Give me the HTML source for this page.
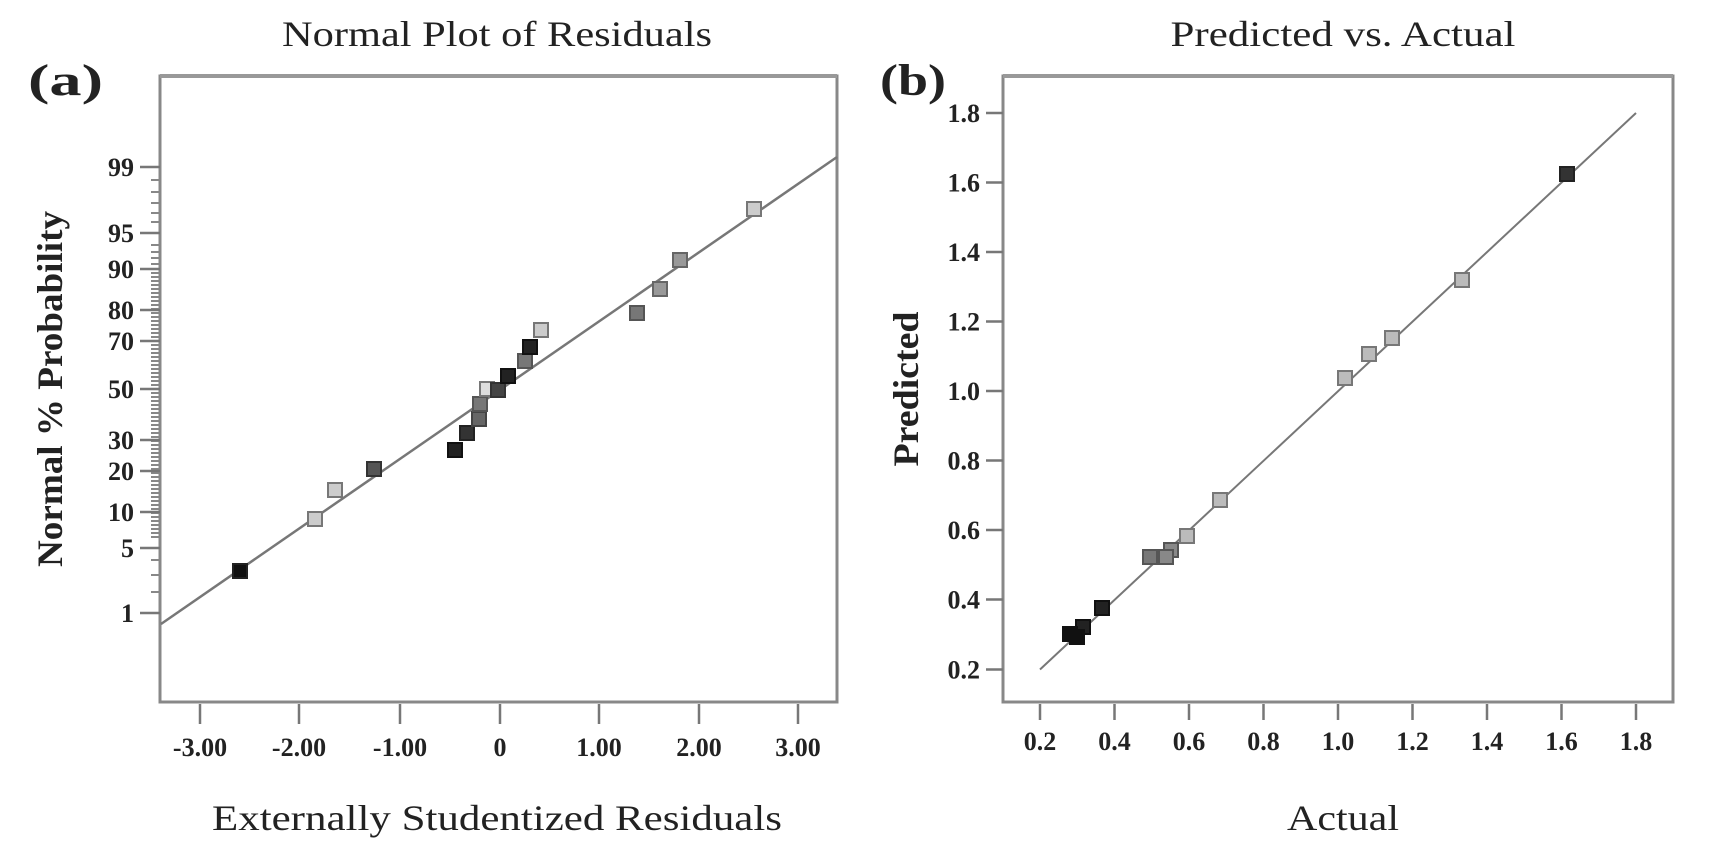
<!DOCTYPE html>
<html><head><meta charset="utf-8"><style>
html,body{margin:0;padding:0;background:#fff;}
svg{display:block;}
text{font-family:"Liberation Serif",serif;fill:#222;}
</style></head><body>
<svg width="1714" height="841" viewBox="0 0 1714 841" xmlns="http://www.w3.org/2000/svg">
<defs>
<pattern id="mt" x="0" y="0" width="10" height="4" patternUnits="userSpaceOnUse">
<rect x="0" y="0" width="10" height="2" fill="#888"/>
</pattern>
</defs>
<!-- Titles -->
<text x="497" y="46" font-size="36" text-anchor="middle" textLength="430" lengthAdjust="spacingAndGlyphs">Normal Plot of Residuals</text>
<text x="1343" y="46" font-size="36" text-anchor="middle" textLength="345" lengthAdjust="spacingAndGlyphs">Predicted vs. Actual</text>
<text x="28" y="95" font-size="44" font-weight="bold" textLength="75" lengthAdjust="spacingAndGlyphs">(a)</text>
<text x="880" y="95" font-size="44" font-weight="bold" textLength="66" lengthAdjust="spacingAndGlyphs">(b)</text>

<!-- Left plot box -->
<rect x="160" y="76" width="677" height="626" fill="none" stroke="#888" stroke-width="3"/>
<line x1="160" y1="76" x2="837" y2="76" stroke="#999" stroke-width="4"/>
<!-- left y minor ticks -->
<g stroke="#888" stroke-width="2">
<line x1="151" y1="180" x2="160" y2="180"/><line x1="151" y1="192" x2="160" y2="192"/><line x1="151" y1="203" x2="160" y2="203"/><line x1="151" y1="213" x2="160" y2="213"/><line x1="151" y1="222" x2="160" y2="222"/>
<line x1="151" y1="245" x2="160" y2="245"/><line x1="151" y1="252" x2="160" y2="252"/><line x1="151" y1="258" x2="160" y2="258"/><line x1="151" y1="264" x2="160" y2="264"/>
</g>
<rect x="151" y="270" width="9" height="268" fill="url(#mt)"/>
<g stroke="#888" stroke-width="2">
<line x1="151" y1="560" x2="160" y2="560"/><line x1="151" y1="575" x2="160" y2="575"/><line x1="151" y1="592" x2="160" y2="592"/>
</g>
<!-- left y major ticks -->
<g stroke="#777" stroke-width="2.5">
<line x1="140" y1="167" x2="160" y2="167"/><line x1="140" y1="233" x2="160" y2="233"/><line x1="140" y1="269" x2="160" y2="269"/>
<line x1="140" y1="310" x2="160" y2="310"/><line x1="140" y1="341" x2="160" y2="341"/><line x1="140" y1="389" x2="160" y2="389"/>
<line x1="140" y1="440" x2="160" y2="440"/><line x1="140" y1="471" x2="160" y2="471"/><line x1="140" y1="512" x2="160" y2="512"/>
<line x1="140" y1="548" x2="160" y2="548"/><line x1="140" y1="613" x2="160" y2="613"/>
</g>
<g font-size="26" font-weight="bold" text-anchor="end">
<text x="134" y="176">99</text><text x="134" y="242">95</text><text x="134" y="278">90</text><text x="134" y="319">80</text>
<text x="134" y="350">70</text><text x="134" y="398">50</text><text x="134" y="449">30</text><text x="134" y="480">20</text>
<text x="134" y="521">10</text><text x="134" y="557">5</text><text x="134" y="622">1</text>
</g>
<!-- left x ticks -->
<g stroke="#777" stroke-width="2.5">
<line x1="200" y1="704" x2="200" y2="724"/><line x1="299" y1="704" x2="299" y2="724"/><line x1="400" y1="704" x2="400" y2="724"/>
<line x1="500" y1="704" x2="500" y2="724"/><line x1="599" y1="704" x2="599" y2="724"/><line x1="699" y1="704" x2="699" y2="724"/><line x1="798" y1="704" x2="798" y2="724"/>
</g>
<g font-size="26" font-weight="bold" text-anchor="middle">
<text x="200" y="756">-3.00</text><text x="299" y="756">-2.00</text><text x="400" y="756">-1.00</text><text x="500" y="756">0</text>
<text x="599" y="756">1.00</text><text x="699" y="756">2.00</text><text x="798" y="756">3.00</text>
</g>
<text x="497" y="830" font-size="36" text-anchor="middle" textLength="570" lengthAdjust="spacingAndGlyphs">Externally Studentized Residuals</text>
<text transform="translate(62,389) rotate(-90)" font-size="36" font-weight="bold" text-anchor="middle" textLength="356" lengthAdjust="spacingAndGlyphs">Normal % Probability</text>
<!-- left fit line -->
<line x1="161" y1="624" x2="837" y2="157" stroke="#777" stroke-width="2.5"/>
<!-- left points -->
<g stroke-width="2">
<rect x="233" y="564" width="14" height="14" fill="#111" stroke="#222"/>
<rect x="308" y="512" width="14" height="14" fill="#ccc" stroke="#777"/>
<rect x="328" y="483" width="14" height="14" fill="#ccc" stroke="#777"/>
<rect x="367" y="462" width="14" height="14" fill="#555" stroke="#333"/>
<rect x="448" y="443" width="14" height="14" fill="#222" stroke="#111"/>
<rect x="460" y="426" width="14" height="14" fill="#333" stroke="#222"/>
<rect x="472" y="412" width="14" height="14" fill="#666" stroke="#444"/>
<rect x="473" y="397" width="14" height="14" fill="#777" stroke="#555"/>
<rect x="480" y="382" width="14" height="14" fill="#ddd" stroke="#777"/>
<rect x="491" y="383" width="14" height="14" fill="#444" stroke="#333"/>
<rect x="501" y="369" width="14" height="14" fill="#222" stroke="#111"/>
<rect x="518" y="354" width="14" height="14" fill="#777" stroke="#555"/>
<rect x="523" y="340" width="14" height="14" fill="#222" stroke="#111"/>
<rect x="534" y="323" width="14" height="14" fill="#ccc" stroke="#777"/>
<rect x="630" y="306" width="14" height="14" fill="#777" stroke="#555"/>
<rect x="653" y="282" width="14" height="14" fill="#999" stroke="#666"/>
<rect x="673" y="253" width="14" height="14" fill="#999" stroke="#666"/>
<rect x="747" y="202" width="14" height="14" fill="#ccc" stroke="#777"/>
</g>

<!-- Right plot box -->
<rect x="1003" y="76" width="670" height="626" fill="none" stroke="#888" stroke-width="3"/>
<line x1="1003" y1="76" x2="1673" y2="76" stroke="#999" stroke-width="4"/>
<g stroke="#777" stroke-width="2.5">
<line x1="986" y1="113" x2="1003" y2="113"/><line x1="986" y1="182.5" x2="1003" y2="182.5"/><line x1="986" y1="252" x2="1003" y2="252"/>
<line x1="986" y1="321.5" x2="1003" y2="321.5"/><line x1="986" y1="391" x2="1003" y2="391"/><line x1="986" y1="460.5" x2="1003" y2="460.5"/>
<line x1="986" y1="530" x2="1003" y2="530"/><line x1="986" y1="599.5" x2="1003" y2="599.5"/><line x1="986" y1="669.5" x2="1003" y2="669.5"/>
</g>
<g font-size="26" font-weight="bold" text-anchor="end">
<text x="980" y="122">1.8</text><text x="980" y="191.5">1.6</text><text x="980" y="261">1.4</text><text x="980" y="330.5">1.2</text>
<text x="980" y="400">1.0</text><text x="980" y="469.5">0.8</text><text x="980" y="539">0.6</text><text x="980" y="608.5">0.4</text><text x="980" y="678.5">0.2</text>
</g>
<g stroke="#777" stroke-width="2.5">
<line x1="1040" y1="704" x2="1040" y2="720"/><line x1="1114.5" y1="704" x2="1114.5" y2="720"/><line x1="1189" y1="704" x2="1189" y2="720"/>
<line x1="1263.5" y1="704" x2="1263.5" y2="720"/><line x1="1338" y1="704" x2="1338" y2="720"/><line x1="1412.5" y1="704" x2="1412.5" y2="720"/>
<line x1="1487" y1="704" x2="1487" y2="720"/><line x1="1561.5" y1="704" x2="1561.5" y2="720"/><line x1="1636" y1="704" x2="1636" y2="720"/>
</g>
<g font-size="26" font-weight="bold" text-anchor="middle">
<text x="1040" y="750">0.2</text><text x="1114.5" y="750">0.4</text><text x="1189" y="750">0.6</text><text x="1263.5" y="750">0.8</text>
<text x="1338" y="750">1.0</text><text x="1412.5" y="750">1.2</text><text x="1487" y="750">1.4</text><text x="1561.5" y="750">1.6</text><text x="1636" y="750">1.8</text>
</g>
<text x="1343" y="830" font-size="36" text-anchor="middle" textLength="112" lengthAdjust="spacingAndGlyphs">Actual</text>
<text transform="translate(918,389) rotate(-90)" font-size="36" font-weight="bold" text-anchor="middle" textLength="155" lengthAdjust="spacingAndGlyphs">Predicted</text>
<line x1="1040" y1="669.5" x2="1636" y2="113" stroke="#777" stroke-width="2"/>
<g stroke-width="2">
<rect x="1560" y="167" width="14" height="14" fill="#333" stroke="#222"/>
<rect x="1455" y="273" width="14" height="14" fill="#bbb" stroke="#777"/>
<rect x="1385" y="331" width="14" height="14" fill="#bbb" stroke="#777"/>
<rect x="1362" y="347" width="14" height="14" fill="#bbb" stroke="#777"/>
<rect x="1338" y="371" width="14" height="14" fill="#bbb" stroke="#777"/>
<rect x="1213" y="493" width="14" height="14" fill="#bbb" stroke="#777"/>
<rect x="1180" y="529" width="14" height="14" fill="#bbb" stroke="#777"/>
<rect x="1164" y="543" width="14" height="14" fill="#888" stroke="#555"/>
<rect x="1143" y="550" width="14" height="14" fill="#777" stroke="#555"/>
<rect x="1159" y="550" width="14" height="14" fill="#888" stroke="#555"/>
<rect x="1095" y="601" width="14" height="14" fill="#222" stroke="#111"/>
<rect x="1076" y="620" width="14" height="14" fill="#222" stroke="#111"/>
<rect x="1063" y="627" width="14" height="14" fill="#111" stroke="#111"/>
<rect x="1070" y="630" width="14" height="14" fill="#111" stroke="#111"/>
</g>
</svg>
</body></html>
